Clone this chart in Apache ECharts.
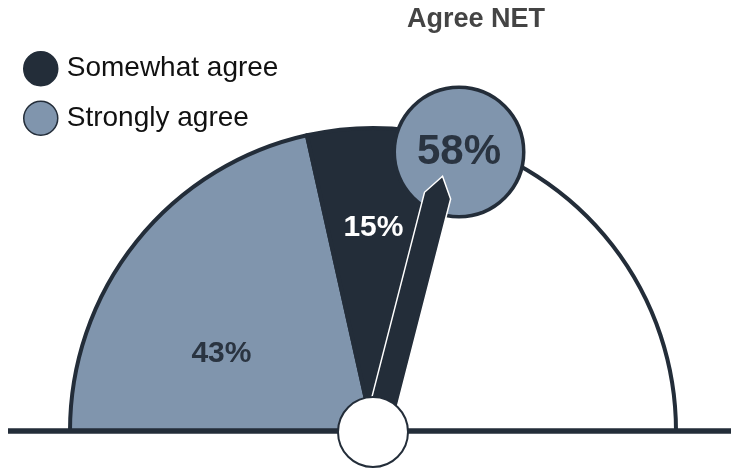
<!DOCTYPE html>
<html>
<head>
<meta charset="utf-8">
<script src="https://cdn.jsdelivr.net/npm/echarts@6/dist/echarts.min.js"></script>
<style>
  html, body { margin: 0; padding: 0; background: #fff; }
  #chart { width: 731px; height: 469px; }
</style>
</head>
<body>
<div id="chart"></div>
<script>
// Agreement split shown as a half-pie dial
const categories = ['Strongly agree', 'Somewhat agree'];
const shares = [43, 15];
const legendOrder = ['Somewhat agree', 'Strongly agree'];
const netLabel = 'Agree NET';

const DARK = '#232d39';
const LIGHT = '#8095ad';

const netValue = shares.reduce((a, b) => a + b, 0);
const remainder = 100 - netValue;

const CX = 373, CY = 431, R = 303;

// small nudges for the slice labels
const labelShift = [
  { dx: -31, dy: 19 },
  { dx: -2, dy: -49 },
  {}
];

const chart = echarts.init(document.getElementById('chart'), null, { renderer: 'canvas' });

const pieData = categories.map((name, i) => ({
  name: name,
  value: shares[i],
  itemStyle: { color: i === 0 ? LIGHT : DARK },
  label: {
    show: true,
    color: i === 0 ? '#2a3441' : '#ffffff',
    fontSize: 30,
    fontWeight: 'bold'
  }
}));
pieData.push({
  name: 'rest',
  value: remainder,
  itemStyle: { color: '#ffffff' },
  label: { show: false }
});

const hiddenAxis = {
  axisLine: { show: false },
  splitLine: { show: false },
  axisTick: { show: false },
  axisLabel: { show: false },
  title: { show: false }
};

chart.setOption({
  animation: false,
  title: {
    text: netLabel,
    left: 407,
    top: 6,
    padding: 0,
    textStyle: {
      fontFamily: 'Liberation Sans, Arial, sans-serif',
      fontSize: 27,
      fontWeight: 'bold',
      color: '#444444'
    }
  },
  legend: {
    data: legendOrder,
    orient: 'vertical',
    left: 18,
    top: 46,
    icon: 'circle',
    itemWidth: 34,
    itemHeight: 34,
    itemGap: 14,
    selectedMode: false,
    itemStyle: { borderColor: DARK, borderWidth: 1.5 },
    textStyle: {
      fontFamily: 'Liberation Sans, Arial, sans-serif',
      fontSize: 28,
      lineHeight: 34,
      color: '#111111',
      padding: [0, 0, 0, 4]
    }
  },
  graphic: [{
    type: 'line',
    z: 3,
    silent: true,
    shape: { x1: 8, y1: CY, x2: 731, y2: CY },
    style: { stroke: DARK, lineWidth: 5.5 }
  }],
  series: [
    {
      type: 'pie',
      z: 2,
      silent: true,
      center: [CX, CY],
      radius: R,
      startAngle: 180,
      endAngle: 0,
      clockwise: true,
      avoidLabelOverlap: false,
      emphasis: { disabled: true },
      itemStyle: { borderColor: DARK, borderWidth: 4 },
      label: {
        position: 'inside',
        formatter: '{c}%',
        fontFamily: 'Liberation Sans, Arial, sans-serif'
      },
      labelLine: { show: false },
      labelLayout: function (p) { return labelShift[p.dataIndex] || {}; },
      data: pieData
    },
    Object.assign({
      type: 'gauge',
      z: 4,
      silent: true,
      center: [CX, CY],
      radius: R,
      startAngle: 180,
      endAngle: 0,
      min: 0,
      max: 100,
      pointer: { show: false },
      anchor: { show: false },
      detail: {
        show: true,
        offsetCenter: [86, -279],
        formatter: '{value}%',
        padding: 0,
        width: 126,
        height: 126,
        lineHeight: 126,
        borderRadius: 63,
        backgroundColor: LIGHT,
        borderColor: DARK,
        borderWidth: 3.5,
        color: '#2a3441',
        fontSize: 42,
        fontWeight: 'bold',
        fontFamily: 'Liberation Sans, Arial, sans-serif',
        valueAnimation: false
      },
      data: [{ value: netValue }]
    }, hiddenAxis),
    Object.assign({
      type: 'gauge',
      z: 5,
      silent: true,
      center: [CX, CY],
      radius: R,
      startAngle: 180,
      endAngle: 0,
      min: 0,
      max: 100,
      pointer: {
        show: true,
        icon: 'path://M13.5,0L27,20L27,264L0,264L0,20Z',
        width: 27,
        length: 264,
        offsetCenter: [4, 0],
        keepAspect: false,
        itemStyle: { color: DARK, borderColor: '#ffffff', borderWidth: 1.5 }
      },
      anchor: {
        show: true,
        showAbove: true,
        size: 70,
        offsetCenter: [0, 1],
        itemStyle: { color: '#ffffff', borderColor: DARK, borderWidth: 2 }
      },
      detail: { show: false },
      data: [{ value: netValue }]
    }, hiddenAxis)
  ]
});
</script>
</body>
</html>
